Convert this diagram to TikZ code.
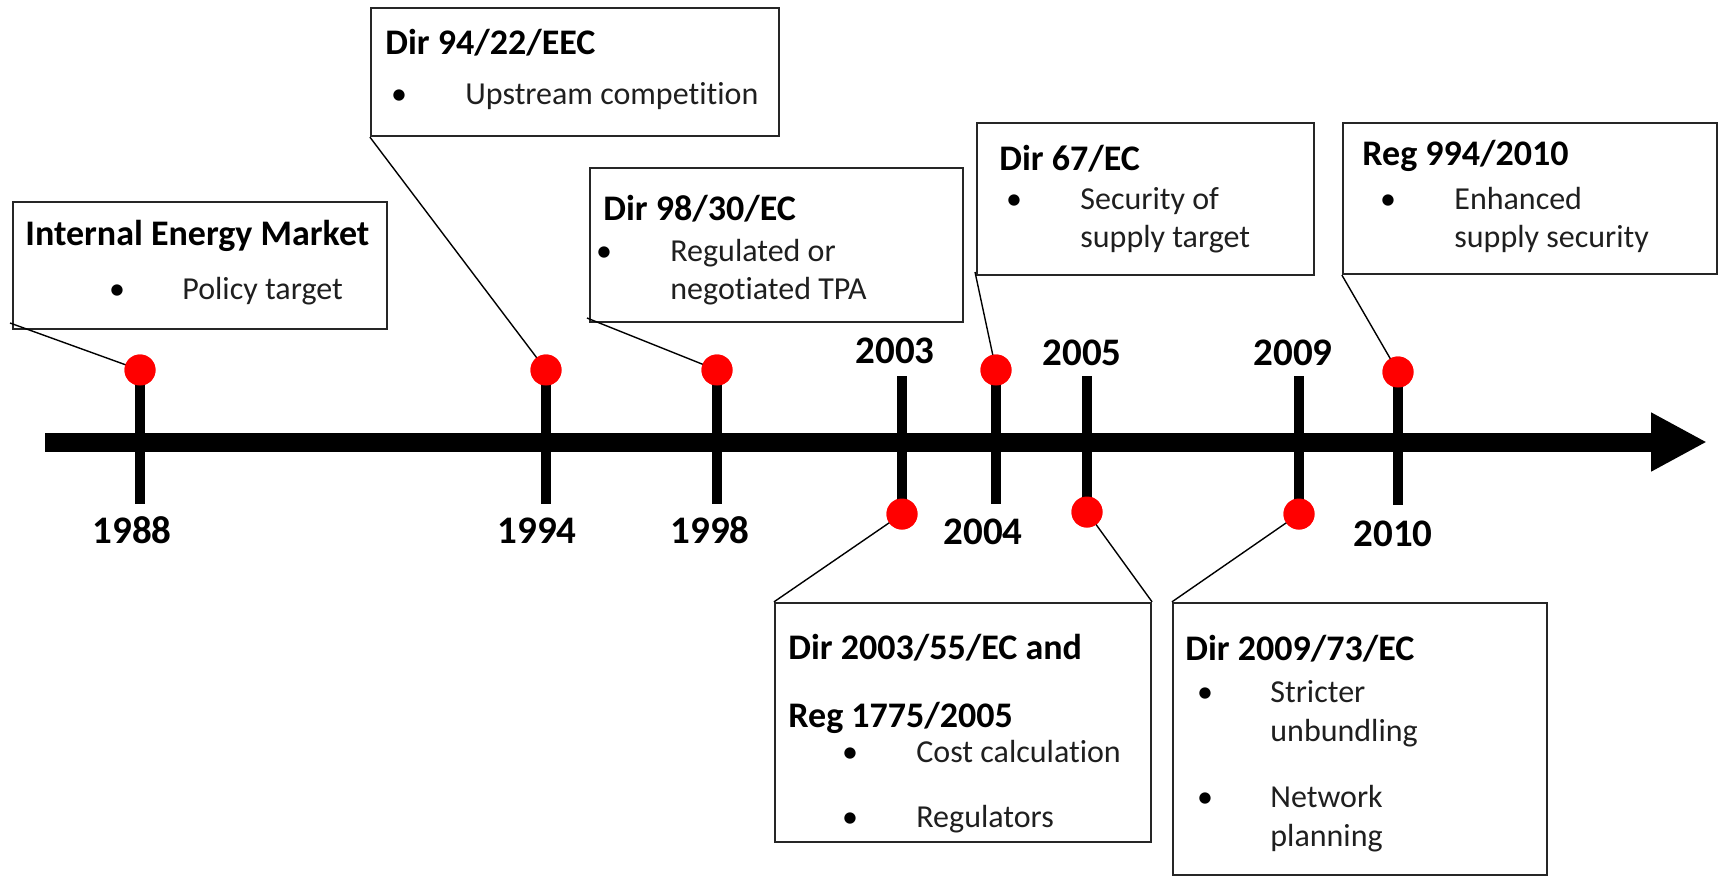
\documentclass[tikz,border=0pt]{standalone}
\usepackage{fontspec}
\setmainfont{Carlito}[Ligatures=NoCommon]
\usetikzlibrary{arrows.meta,fit}
\begin{document}
\begin{tikzpicture}[x=0.5pt,y=-0.5pt,
  box/.style={draw=black!85, line width=1.1pt, inner sep=0pt, fill=white},
  title/.style={anchor=base west, inner sep=0pt, font=\fontsize{18}{22}\selectfont\bfseries},
  body/.style={anchor=base west, inner sep=0pt, font=\fontsize{16}{19.5}\selectfont, text=black!88},
  bul/.style={anchor=base, inner sep=0pt, font=\fontsize{16}{19.5}\selectfont},
  year/.style={anchor=base, inner sep=0pt, font=\fontsize{19.5}{23}\selectfont\bfseries},
  dot/.style={circle, fill=red, inner sep=0pt, minimum size=15.5pt},
  tickline/.style={line width=5pt},
  conn/.style={line width=0.7pt},
  axisline/.style={line width=9.5pt, -{Triangle[length=28pt,width=27.5pt]}}]
\useasboundingbox[fill=white] (0,0) rectangle (1719,880);

% boxes
\node[box, fit={(13,202) (387,329)}] (bIEM) {};
\node[box, fit={(371,8) (779,136)}] (b9422) {};
\node[box, fit={(590,168) (963,322)}] (b9830) {};
\node[box, fit={(977,123) (1314,275)}] (b67) {};
\node[box, fit={(1343,123) (1717,274)}] (bReg) {};
\node[box, fit={(775,603) (1151,842)}] (b2003) {};
\node[box, fit={(1173,603) (1547,875)}] (b2009) {};

% axis
\coordinate (axL) at (45,442);
\coordinate (axR) at (1707,442);
\draw[axisline] (axL) -- (axR);

% dots and tick ends
\node[dot] (d1988) at (140,370) {};
\node[dot] (d1994) at (546,370) {};
\node[dot] (d1998) at (717,370) {};
\node[dot] (d2003) at (902,514) {};
\node[dot] (d2004) at (996,370) {};
\node[dot] (d2005) at (1087,512) {};
\node[dot] (d2009) at (1299,514) {};
\node[dot] (d2010) at (1398,372) {};
\coordinate (e1988) at (140,504);
\coordinate (e1994) at (546,504);
\coordinate (e1998) at (717,504);
\coordinate (e2003) at (902,376);
\coordinate (e2004) at (996,504);
\coordinate (e2005) at (1087,376);
\coordinate (e2009) at (1299,376);
\coordinate (e2010) at (1398,505);

% connectors
\coordinate (cIEM) at (10,323);
\coordinate (c9830) at (587,318);
\coordinate (c67) at (975,272);
\draw[conn] (cIEM) -- (d1988.center);
\draw[conn] (b9422.south west) -- (d1994.center);
\draw[conn] (c9830) -- (d1998.center);
\draw[conn] (c67) -- (d2004.center);
\draw[conn] (bReg.south west) -- (d2010.center);
\draw[conn] (b2003.north west) -- (d2003.center);
\draw[conn] (b2003.north east) -- (d2005.center);
\draw[conn] (b2009.north west) -- (d2009.center);

% ticks
\foreach \y in {1988,1994,1998,2003,2004,2005,2009,2010}
  \draw[tickline] (d\y.center) -- (e\y);
% dots on top
\foreach \y in {1988,1994,1998,2003,2004,2005,2009,2010}
  \fill[red] (d\y.center) circle[radius=7.75pt];

% years
\node[year] (y1988) at (132,543) {1988};
\node[year] (y1994) at (537,543) {1994};
\node[year] (y1998) at (710,543) {1998};
\node[year] (y2003) at (895,363) {2003};
\node[year] (y2004) at (983,544) {2004};
\node[year] (y2005) at (1082,365) {2005};
\node[year] (y2009) at (1293,365) {2009};
\node[year] (y2010) at (1393,546) {2010};

% IEM
\node[title] (tIEM) at (25,245) {Internal Energy Market};
\node[bul] (uIEM) at (117,299) {\textbullet};
\node[body] (sIEM) at (182,299) {Policy target};
% 94/22
\node[title] (t9422) at (385,54) {Dir 94/22/EEC};
\node[bul] (u9422) at (399,104) {\textbullet};
\node[body] (s9422) at (465,104) {Upstream competition};
% 98/30
\node[title] (t9830) at (603,220) {Dir 98/30/EC};
\node[bul] (u9830) at (604,261) {\textbullet};
\node[body] (s9830a) at (670,261) {Regulated or};
\node[body] (s9830b) at (670,299) {negotiated TPA};
% 67
\node[title] (t67) at (999,170) {Dir 67/EC};
\node[bul] (u67) at (1014,209) {\textbullet};
\node[body] (s67a) at (1080,209) {Security of};
\node[body] (s67b) at (1080,247) {supply target};
% Reg 994
\node[title] (tReg) at (1362,165) {Reg 994/2010};
\node[bul] (uReg) at (1388,209) {\textbullet};
\node[body] (sRega) at (1454,209) {Enhanced};
\node[body] (sRegb) at (1454,247) {supply security};
% 2003
\node[title] (t2003a) at (788,659) {Dir 2003/55/EC and};
\node[title] (t2003b) at (788,727) {Reg 1775/2005};
\node[bul] (u2003a) at (850,762) {\textbullet};
\node[body] (s2003a) at (916,762) {Cost calculation};
\node[bul] (u2003b) at (850,827) {\textbullet};
\node[body] (s2003b) at (916,827) {Regulators};
% 2009
\node[title] (t2009) at (1185,660) {Dir 2009/73/EC};
\node[bul] (u2009a) at (1205,702) {\textbullet};
\node[body] (s2009a) at (1270,702) {Stricter};
\node[body] (s2009b) at (1270,741) {unbundling};
\node[bul] (u2009b) at (1205,807) {\textbullet};
\node[body] (s2009c) at (1270,807) {Network};
\node[body] (s2009d) at (1270,846) {planning};
\end{tikzpicture}
\end{document}
